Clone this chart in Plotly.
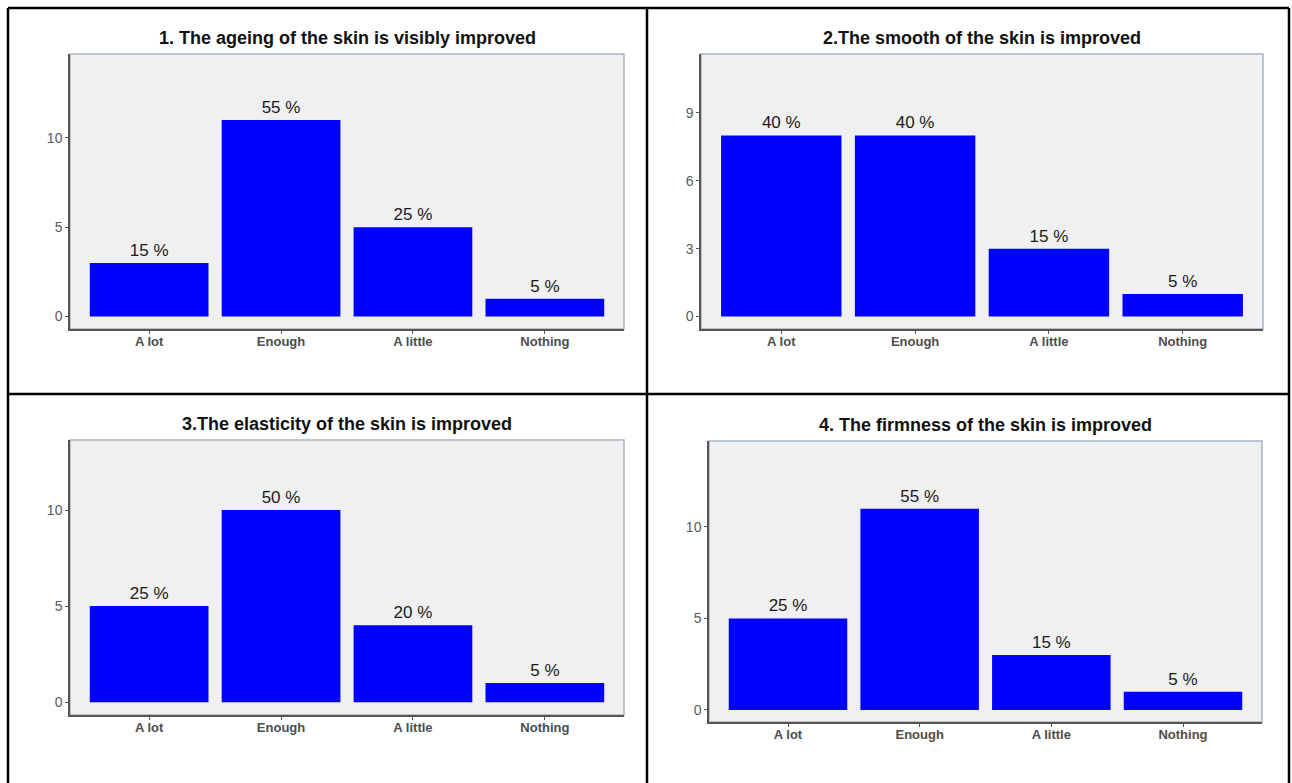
import plotly.graph_objects as go

W, H = 1292, 783

categories = ["A lot", "Enough", "A little", "Nothing"]

titles = [
    "1. The ageing of the skin is visibly improved",
    "2.The smooth of the skin is improved",
    "3.The elasticity of the skin is improved",
    "4. The firmness of the skin is improved",
]
counts_1 = [3, 11, 5, 1]
counts_2 = [8, 8, 3, 1]
counts_3 = [5, 10, 4, 1]
counts_4 = [5, 11, 3, 1]
percent_1 = ["15 %", "55 %", "25 %", "5 %"]
percent_2 = ["40 %", "40 %", "15 %", "5 %"]
percent_3 = ["25 %", "50 %", "20 %", "5 %"]
percent_4 = ["25 %", "55 %", "15 %", "5 %"]
yticks_1 = [0, 5, 10]
yticks_2 = [0, 3, 6, 9]
yticks_3 = [0, 5, 10]
yticks_4 = [0, 5, 10]

panels = [
    dict(counts=counts_1, labels=percent_1, ticks=yticks_1, yr=[-0.7, 14.7],
         px=(70, 624), py=(54, 329)),
    dict(counts=counts_2, labels=percent_2, ticks=yticks_2, yr=[-0.55, 11.6],
         px=(701, 1263), py=(54, 329)),
    dict(counts=counts_3, labels=percent_3, ticks=yticks_3, yr=[-0.67, 13.65],
         px=(70, 624), py=(440, 715)),
    dict(counts=counts_4, labels=percent_4, ticks=yticks_4, yr=[-0.66, 14.7],
         px=(709, 1262), py=(441, 722)),
]

FONT = "Liberation Sans, Arial, sans-serif"
fig = go.Figure()
layout = dict(
    width=W, height=H, margin=dict(l=0, r=0, t=0, b=0),
    paper_bgcolor="white", showlegend=False,
    font=dict(family=FONT),
)
annotations = []
shapes = []

for i, (p, title) in enumerate(zip(panels, titles), start=1):
    sx = "" if i == 1 else str(i)
    xd = [p["px"][0] / W, p["px"][1] / W]
    yd = [1 - p["py"][1] / H, 1 - p["py"][0] / H]
    fig.add_trace(go.Bar(
        x=list(range(len(categories))), y=p["counts"],
        text=p["labels"], textposition="outside", cliponaxis=False,
        constraintext="none",
        textfont=dict(size=17, color="#1a1a1a", family=FONT),
        marker=dict(color="#0000FF", line=dict(width=0)),
        width=0.9, xaxis="x" + sx, yaxis="y" + sx,
    ))
    layout["xaxis" + sx] = dict(
        domain=xd, anchor="y" + sx, range=[-0.6, 3.6],
        tickmode="array", tickvals=list(range(len(categories))),
        ticktext=["<b>%s</b>" % c for c in categories],
        tickfont=dict(size=13, color="#4d4d4d"),
        ticks="outside", ticklen=3, tickcolor="#555555",
        ticklabelstandoff=-3,
        showline=True, linecolor="#555555", linewidth=1.5,
        showgrid=False, zeroline=False, fixedrange=True,
    )
    layout["yaxis" + sx] = dict(
        domain=yd, anchor="x" + sx, range=p["yr"],
        tickmode="array", tickvals=p["ticks"],
        tickfont=dict(size=14, color="#5a5a5a"),
        ticks="outside", ticklen=3, tickcolor="#555555",
        showline=True, linecolor="#555555", linewidth=1.5,
        showgrid=False, zeroline=False, fixedrange=True,
    )
    # light frame on top and right of the panel
    shapes.append(dict(type="rect", xref="x%s domain" % sx, yref="y%s domain" % sx,
                       x0=0, x1=1, y0=0, y1=1, fillcolor="#F0F0F0",
                       line=dict(color="#A9B4C2", width=1.5), layer="below"))
    annotations.append(dict(
        text="<b>%s</b>" % title, xref="paper", yref="paper",
        x=(xd[0] + xd[1]) / 2, y=yd[1], yshift=4,
        xanchor="center", yanchor="bottom", showarrow=False,
        font=dict(size=18, color="#111111", family=FONT),
    ))

# table grid lines around the four panels
def px_line(x0, y0, x1, y1):
    return dict(type="line", xref="paper", yref="paper",
                x0=x0 / W, x1=x1 / W, y0=1 - y0 / H, y1=1 - y1 / H,
                line=dict(color="black", width=2.5))

shapes += [
    px_line(8, 8, 1289, 8),
    px_line(8, 8, 8, H),
    px_line(1289, 8, 1289, H),
    px_line(647, 8, 647, H),
    px_line(8, 394, 1289, 394),
]

layout["annotations"] = annotations
layout["shapes"] = shapes
layout["plot_bgcolor"] = "rgba(0,0,0,0)"
fig.update_layout(**layout)
fig.write_html("out.html")
